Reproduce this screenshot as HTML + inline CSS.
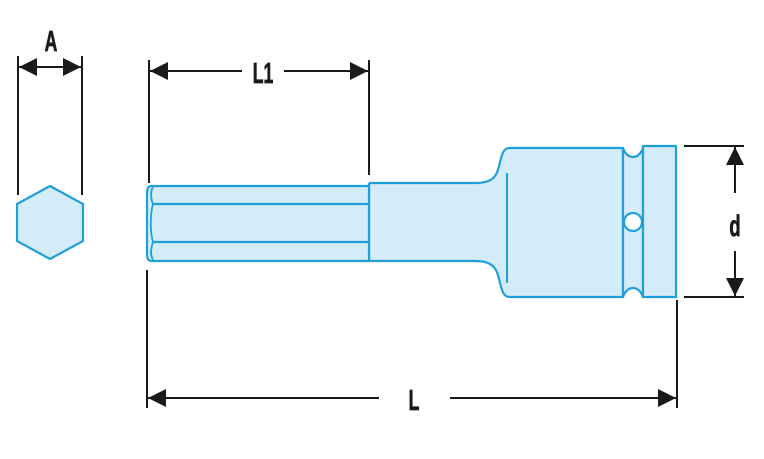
<!DOCTYPE html>
<html><head><meta charset="utf-8"><style>
html,body{margin:0;padding:0;background:#fff;}
svg{display:block;}
text{font-family:"Liberation Sans",sans-serif;fill:#1a1a1a;font-weight:bold;stroke:#1a1a1a;stroke-width:0.6;}
</style></head><body>
<svg width="764" height="459" viewBox="0 0 764 459" xmlns="http://www.w3.org/2000/svg">
<defs>
<marker id="ar" viewBox="0 0 10 10" refX="10" refY="5" markerWidth="18" markerHeight="18" markerUnits="userSpaceOnUse" orient="auto-start-reverse">
<path d="M0,0 L10,5 L0,10 z" fill="#1a1a1a"/>
</marker>
</defs>
<g stroke="#1a1a1a" stroke-width="2" fill="none">
<line x1="18" y1="56" x2="18" y2="195"/>
<line x1="82" y1="56" x2="82" y2="195"/>
<line x1="19" y1="67" x2="81" y2="67" marker-start="url(#ar)" marker-end="url(#ar)"/>
<line x1="149" y1="60" x2="149" y2="183"/>
<line x1="369" y1="60" x2="369" y2="175"/>
<line x1="150" y1="71" x2="242" y2="71" marker-start="url(#ar)"/>
<line x1="284" y1="71" x2="368" y2="71" marker-end="url(#ar)"/>
<line x1="147" y1="270" x2="147" y2="408"/>
<line x1="677" y1="300" x2="677" y2="408"/>
<line x1="148" y1="398" x2="379" y2="398" marker-start="url(#ar)"/>
<line x1="450" y1="398" x2="676" y2="398" marker-end="url(#ar)"/>
<line x1="684" y1="146" x2="744" y2="146"/>
<line x1="684" y1="297" x2="744" y2="297"/>
<line x1="735" y1="147" x2="735" y2="193" marker-start="url(#ar)"/>
<line x1="735" y1="251" x2="735" y2="296" marker-end="url(#ar)"/>
</g>
<text transform="translate(51,51) scale(0.8,1.3)" font-size="22" text-anchor="middle">A</text>
<text transform="translate(263,83) scale(0.8,1.3)" font-size="22" text-anchor="middle">L1</text>
<text transform="translate(414,410) scale(0.8,1.3)" font-size="22" text-anchor="middle">L</text>
<text transform="translate(735,236) scale(0.8,1.3)" font-size="23" text-anchor="middle">d</text>
<g stroke="#1ea0d8" stroke-width="2.2" fill="#d4ecfa" stroke-linejoin="round">
<polygon points="50,186 83,204 83,241 50,259 17,241 17,204"/>
<path d="M475,183 C495,183 497,175 500,162 C503,150 505,148 510,148 L623,148 L623,297 L510,297 C505,297 503,295 500,283 C497,270 495,261 475,261 Z"/>
<rect x="369" y="183" width="108" height="78" stroke="none"/>
<path d="M369,183 L477,183 M369,261 L477,261" fill="none"/>
<line x1="369" y1="183" x2="369" y2="261"/>
<line x1="507" y1="173" x2="507" y2="283" stroke-width="2"/>
<path d="M623,148 C627,160 639,160 643,148 L643,297 C639,285 627,285 623,297 Z"/>
<circle cx="633" cy="222" r="9" fill="#fff"/>
<rect x="643" y="146" width="33" height="151"/>
<path d="M152,186 L369,186 L369,261 L152,261 C147,261 147,258 147,250 L147,197 C147,189 147,186 152,186 Z"/>
<line x1="152" y1="204" x2="369" y2="204"/>
<line x1="152" y1="242" x2="369" y2="242"/>
<path d="M153,187 C150,192 151,200 153,204 C150,215 150,232 153,242 C151,248 150,255 153,260" fill="none" stroke-width="1.8"/>
</g>
</svg>
</body></html>
